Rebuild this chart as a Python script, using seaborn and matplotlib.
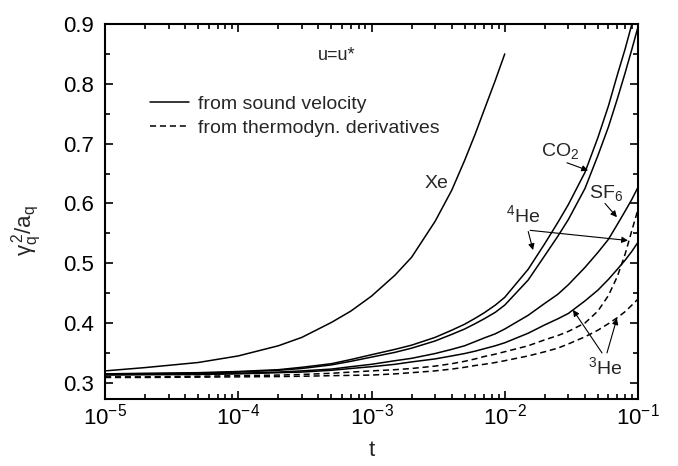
import matplotlib
matplotlib.use("Agg")
import matplotlib.pyplot as plt
import pandas as pd
import seaborn as sns
from matplotlib.lines import Line2D
from matplotlib.ticker import MultipleLocator, LogLocator, LogFormatterMathtext, NullFormatter

sns.set_style("ticks")
plt.rcParams["font.family"] = ["Liberation Sans", "DejaVu Sans"]
plt.rcParams["mathtext.fontset"] = "custom"
plt.rcParams["mathtext.rm"] = "Liberation Sans"
plt.rcParams["mathtext.it"] = "Liberation Sans:italic"
plt.rcParams["mathtext.bf"] = "Liberation Sans:bold"

# reduced temperature t
t = [1e-5, 2e-5, 5e-5, 1e-4, 2e-4, 3e-4, 5e-4, 7e-4, 1e-3, 1.5e-3, 2e-3,
     3e-3, 4e-3, 5e-3, 6e-3, 7e-3, 8.5e-3, 1e-2, 1.5e-2, 2e-2, 2.5e-2,
     3e-2, 4e-2, 5e-2, 6e-2, 7e-2, 8e-2, 9e-2, 1e-1]

# gamma_q^2 / a_q, solid = from sound velocity (Xe stops at t = 1e-2)
xe = [0.320, 0.3255, 0.334, 0.345, 0.362, 0.376, 0.401, 0.420, 0.445, 0.480,
      0.510, 0.570, 0.622, 0.672, 0.716, 0.756, 0.806, 0.850]
he4_sound = [0.315, 0.316, 0.317, 0.319, 0.322, 0.326, 0.332, 0.339, 0.347,
             0.356, 0.363, 0.376, 0.388, 0.398, 0.408, 0.417, 0.430, 0.443,
             0.490, 0.533, 0.568, 0.598, 0.652, 0.710, 0.763, 0.815, 0.858,
             0.900, 0.940]
co2_sound = [0.315, 0.315, 0.316, 0.318, 0.321, 0.324, 0.330, 0.336, 0.343,
             0.351, 0.358, 0.370, 0.381, 0.390, 0.399, 0.407, 0.418, 0.430,
             0.472, 0.513, 0.545, 0.573, 0.625, 0.680, 0.728, 0.775, 0.818,
             0.858, 0.895]
sf6_sound = [0.314, 0.3145, 0.315, 0.316, 0.318, 0.320, 0.323, 0.327, 0.331,
             0.337, 0.341, 0.349, 0.356, 0.362, 0.369, 0.375, 0.382, 0.390,
             0.413, 0.433, 0.448, 0.464, 0.493, 0.518, 0.540, 0.565, 0.587,
             0.607, 0.627]
he3_sound = [0.313, 0.3135, 0.314, 0.315, 0.317, 0.318, 0.321, 0.324, 0.327,
             0.331, 0.335, 0.340, 0.345, 0.349, 0.353, 0.357, 0.362, 0.367,
             0.383, 0.397, 0.407, 0.416, 0.437, 0.455, 0.473, 0.490, 0.505,
             0.520, 0.535]
# dashed = from thermodynamic derivatives
he4_thermo = [0.310, 0.310, 0.311, 0.312, 0.313, 0.314, 0.316, 0.318, 0.320,
              0.322, 0.324, 0.328, 0.332, 0.336, 0.340, 0.344, 0.348, 0.352,
              0.362, 0.372, 0.379, 0.386, 0.400, 0.420, 0.446, 0.478, 0.515,
              0.555, 0.590]
he3_thermo = [0.309, 0.309, 0.3095, 0.310, 0.3105, 0.311, 0.312, 0.3125,
              0.313, 0.315, 0.317, 0.320, 0.323, 0.326, 0.329, 0.331, 0.334,
              0.337, 0.345, 0.352, 0.358, 0.365, 0.377, 0.388, 0.399, 0.409,
              0.419, 0.430, 0.440]

dashed = (0, (4, 2.5))
curves = {
    "Xe": (xe, "-"),
    "4He": (he4_sound, "-"),
    "CO2": (co2_sound, "-"),
    "SF6": (sf6_sound, "-"),
    "3He": (he3_sound, "-"),
    "4He thermo": (he4_thermo, dashed),
    "3He thermo": (he3_thermo, dashed),
}

rows = []
for name, (vals, _) in curves.items():
    for tt, v in zip(t, vals):
        rows.append({"t": tt, "value": v, "curve": name})
df = pd.DataFrame(rows)

fig = plt.figure(figsize=(6.78, 4.66), dpi=100)
ax = fig.add_axes([0.1549, 0.1438, 0.7861, 0.8047])
ax.set_xscale("log")

for name, (vals, ls) in curves.items():
    sub = df[df["curve"] == name]
    sns.lineplot(data=sub, x="t", y="value", ax=ax, color="black", lw=1.1,
                 linestyle=ls, estimator=None, sort=True)

ax.set_xlim(1e-5, 1e-1)
ax.set_ylim(0.273, 0.9)

ax.xaxis.set_major_locator(LogLocator(base=10, numticks=10))
ax.xaxis.set_minor_locator(LogLocator(base=10, subs=range(2, 10), numticks=10))
ax.xaxis.set_major_formatter(LogFormatterMathtext())
ax.xaxis.set_minor_formatter(NullFormatter())
ax.yaxis.set_major_locator(MultipleLocator(0.1))
ax.yaxis.set_minor_locator(MultipleLocator(0.05))

ax.tick_params(which="both", direction="in", top=True, right=True,
               colors="black", width=1.2)
ax.tick_params(which="major", length=6, labelsize=16)
ax.tick_params(which="minor", length=3.5)
ax.tick_params(axis="x", which="major", pad=3)
ax.tick_params(axis="y", which="major", pad=8)
for sp in ax.spines.values():
    sp.set_linewidth(1.5)
    sp.set_color("black")

ax.set_xlabel("t", fontsize=16, labelpad=8)
ax.set_ylabel(r"$\mathrm{\gamma_q^{\,2}/a_q}$", fontsize=16)
ax.yaxis.set_label_coords(-0.115, 0.45)

handles = [Line2D([], [], color="black", lw=1.1),
           Line2D([], [], color="black", lw=1.1, linestyle=dashed)]
ax.legend(handles, ["from sound velocity", "from thermodyn. derivatives"],
          loc="upper left", bbox_to_anchor=(0.084, 0.81), frameon=False,
          fontsize=14, handlelength=2.0, handletextpad=0.5, labelspacing=0.33,
          borderpad=0, borderaxespad=0)

ax.text(5.5e-4, 0.847, "u=u*", ha="center", va="center", fontsize=13)
ax.text(3.05e-3, 0.633, "Xe", ha="center", va="center", fontsize=14)
ax.text(0.026, 0.688, r"CO$_2$", ha="center", va="center", fontsize=14)
ax.text(0.0575, 0.618, r"SF$_6$", ha="center", va="center", fontsize=14)
ax.text(0.0137, 0.580, r"$^4$He", ha="center", va="center", fontsize=14)
ax.text(0.0565, 0.327, r"$^3$He", ha="center", va="center", fontsize=14)

arrow = dict(arrowstyle="-|>", color="black", lw=0.8, mutation_scale=9,
             shrinkA=0, shrinkB=0)
ax.annotate("", xy=(0.0422, 0.655), xytext=(0.0293, 0.668), arrowprops=arrow)
ax.annotate("", xy=(0.0695, 0.577), xytext=(0.0565, 0.600), arrowprops=arrow)
ax.annotate("", xy=(0.0163, 0.522), xytext=(0.0150, 0.553), arrowprops=arrow)
ax.annotate("", xy=(0.0841, 0.538), xytext=(0.0155, 0.555), arrowprops=arrow)
ax.annotate("", xy=(0.0325, 0.422), xytext=(0.0537, 0.350), arrowprops=arrow)
ax.annotate("", xy=(0.0695, 0.408), xytext=(0.0585, 0.350), arrowprops=arrow)

fig.savefig("out.png", dpi=100)
